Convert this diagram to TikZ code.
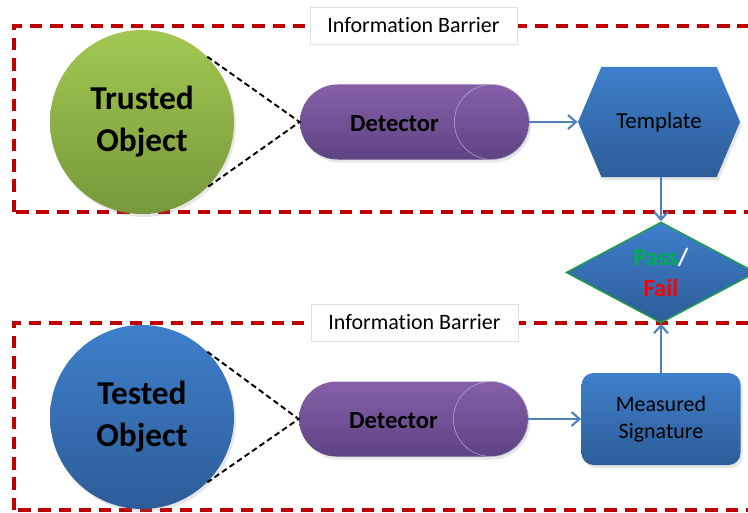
\documentclass[tikz,border=0pt]{standalone}
\usepackage{fontspec}
\setmainfont{Carlito}[Ligatures=NoCommon]
\usetikzlibrary{arrows.meta,shapes.geometric,shapes.symbols,shadows}
\definecolor{fence}{HTML}{C00000}
\definecolor{flow}{HTML}{4F81BD}
\definecolor{leaftop}{HTML}{A3C752}
\definecolor{leafbot}{HTML}{76983B}
\definecolor{bluetop}{HTML}{3E7FCB}
\definecolor{bluebot}{HTML}{2D5D98}
\definecolor{plumtop}{HTML}{8560A9}
\definecolor{plumbot}{HTML}{5E4483}
\definecolor{edge}{HTML}{1FA04A}
\definecolor{passc}{HTML}{00B050}
\definecolor{failc}{HTML}{FF0000}

\begin{document}
\begin{tikzpicture}[
    barrier/.style={fence,line width=2.3pt,dash pattern=on 7pt off 4.5pt},
    tag/.style={draw=black!12,fill=white,minimum width=4.14cm,minimum height=0.74cm,font=\fontsize{12.5}{15}\selectfont},
    shade/.style={drop shadow={shadow xshift=0.4mm,shadow yshift=-0.6mm,opacity=0.2}},
    object/.style={circle,shade,minimum size=3.68cm,inner sep=0pt,align=center,font=\fontsize{19}{24}\selectfont\bfseries},
    detector/.style={shade,rounded corners=0.75cm,minimum width=4.58cm,minimum height=1.5cm,
      top color=plumtop,bottom color=plumbot,
      label={[xshift=-0.4cm,yshift=-1pt,font=\fontsize{14}{17}\selectfont\bfseries]center:Detector}},
    link/.style={dash pattern=on 3.2pt off 2pt,line width=1.1pt},
    feed/.style={flow,line width=1.2pt,-{Straight Barb[length=1.6mm,width=2.8mm]}}
  ]
  \useasboundingbox (0,0) rectangle (14.96,10.24);
  \clip (0,0) rectangle (14.96,10.24);

  % Barriers
  \draw[barrier] (0.28,6.00) rectangle (15.5,9.72);
  \draw[barrier] (0.28,0.04) rectangle (15.5,3.78);
  \node[tag] (barA) at (8.27,9.73) {Information Barrier};
  \node[tag] (barB) at (8.29,3.79) {Information Barrier};

  % Trusted side
  \node[object,top color=leaftop,bottom color=leafbot] (trusted) at (2.84,7.80) {Trusted\\Object};
  \node[detector] (detA) at (8.29,7.80) {};
  \draw[plumtop!55!white,line width=0.3pt] ([xshift=-0.75cm]detA.east) circle (0.75cm);
  \node[shade,shape=signal,signal to=west and east,signal pointer angle=134,
    minimum width=3.24cm,minimum height=2.20cm,inner sep=0pt,
    top color=bluetop,bottom color=bluebot,font=\fontsize{13}{16}\selectfont] (tmpl) at (13.18,7.80) {Template};

  % Tested side
  \node[object,top color=bluetop,bottom color=bluebot] (tested) at (2.84,1.90) {Tested\\Object};
  \node[detector] (detB) at (8.27,1.86) {};
  \draw[plumtop!55!white,line width=0.3pt] ([xshift=-0.75cm]detB.east) circle (0.75cm);
  \node[shade,rounded corners=0.24cm,minimum width=3.18cm,minimum height=1.84cm,
    top color=bluetop,bottom color=bluebot,align=center,
    font=\fontsize{12.5}{15.5}\selectfont] (sig) at (13.22,1.86) {Measured\\Signature};

  % Decision
  \node[diamond,aspect=1.9,minimum width=3.8cm,minimum height=2.02cm,inner sep=0pt,
    draw=edge,line width=0.8pt,top color=bluetop,bottom color=bluebot,align=center,
    font=\fontsize{14}{17.5}\selectfont\bfseries] (verdict) at (13.22,4.79)
    {{\color{passc}Pass}{\color{white}/}\\{\color{failc}Fail}};

  % Connectors
  \draw[link] (trusted.45) -- (detA.west) -- (trusted.-45);
  \draw[link] (tested.45) -- (detB.west) -- (tested.-45);
  \draw[feed] (detA.east) -- (tmpl.west);
  \draw[feed] (detB.east) -- (sig.west);
  \draw[feed] (verdict.north |- tmpl.south) -- (verdict.north);
  \draw[feed] (sig.north) -- (verdict.south);
\end{tikzpicture}
\end{document}
